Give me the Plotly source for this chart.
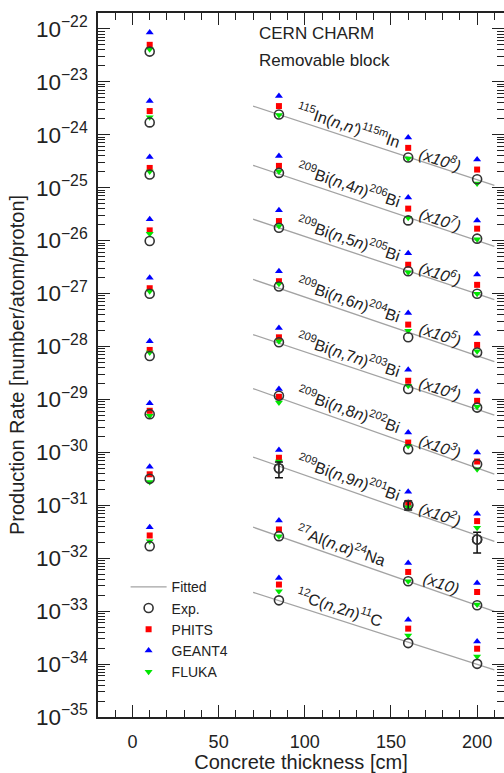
import numpy as np
import plotly.graph_objects as go

# ---------------- data (values as plotted, i.e. already multiplied by the scale factor) -------------
thickness = [10, 85, 160, 200]

reaction_labels = [
    "<sup>115</sup>In(<i>n</i>,<i>n'</i>)<sup>115m</sup>In",
    "<sup>209</sup>Bi(<i>n</i>,4<i>n</i>)<sup>206</sup>Bi",
    "<sup>209</sup>Bi(<i>n</i>,5<i>n</i>)<sup>205</sup>Bi",
    "<sup>209</sup>Bi(<i>n</i>,6<i>n</i>)<sup>204</sup>Bi",
    "<sup>209</sup>Bi(<i>n</i>,7<i>n</i>)<sup>203</sup>Bi",
    "<sup>209</sup>Bi(<i>n</i>,8<i>n</i>)<sup>202</sup>Bi",
    "<sup>209</sup>Bi(<i>n</i>,9<i>n</i>)<sup>201</sup>Bi",
    "<sup>27</sup>Al(<i>n</i>,<i>α</i>)<sup>24</sup>Na",
    "<sup>12</sup>C(<i>n</i>,2<i>n</i>)<sup>11</sup>C",
]
scale_labels = [
    "<i>(x10<sup>8</sup>)</i>", "<i>(x10<sup>7</sup>)</i>", "<i>(x10<sup>6</sup>)</i>",
    "<i>(x10<sup>5</sup>)</i>", "<i>(x10<sup>4</sup>)</i>", "<i>(x10<sup>3</sup>)</i>",
    "<i>(x10<sup>2</sup>)</i>", "<i>(x10)</i>", "",
]

# rows: reactions (same order as labels); columns: thickness 10, 85, 160, 200 cm
exp_rate = [
    [3.72e-23, 2.42e-24, 3.71e-25, 1.44e-25],
    [1.71e-24, 1.90e-25, 2.41e-26, 1.09e-26],
    [1.77e-25, 1.75e-26, 2.64e-27, 9.9e-28],
    [9.8e-27, 1.36e-27, 1.49e-28, 7.7e-29],
    [9.9e-28, 1.20e-28, 1.57e-29, 7.0e-30],
    [6.6e-29, 1.17e-29, 1.15e-30, 5.95e-31],
    [5.27e-30, 5.0e-31, 1.01e-31, 2.26e-32],
    [3.18e-31, 2.61e-32, 3.67e-33, 1.29e-33],
    [1.69e-32, 1.60e-33, 2.49e-34, 1.01e-34],
]
# experimental uncertainties that are visible (Bi(n,9n) row)
exp_err_row = 6
exp_err_plus = [0.0, 1.6e-31, 0.2e-31, 0.84e-32]
exp_err_minus = [0.0, 1.7e-31, 0.2e-31, 1.0e-32]

phits_rate = [
    [5.0e-23, 3.48e-24, 5.65e-25, 2.20e-25],
    [2.80e-24, 2.58e-25, 4.02e-26, 1.68e-26],
    [2.36e-25, 2.34e-26, 3.50e-27, 1.46e-27],
    [1.56e-26, 1.71e-27, 2.59e-28, 1.07e-28],
    [1.26e-27, 1.49e-28, 2.25e-29, 9.4e-30],
    [8.6e-29, 1.12e-29, 1.53e-30, 6.7e-31],
    [6.1e-30, 7.9e-31, 1.11e-31, 5.02e-32],
    [3.85e-31, 3.49e-32, 5.5e-33, 2.30e-33],
    [2.69e-32, 3.18e-33, 4.67e-34, 1.95e-34],
]
geant4_rate = [
    [8.5e-23, 5.38e-24, 8.9e-25, 3.40e-25],
    [4.33e-24, 3.98e-25, 6.5e-26, 2.41e-26],
    [3.81e-25, 3.73e-26, 5.8e-27, 2.29e-27],
    [2.52e-26, 2.64e-27, 4.31e-28, 1.73e-28],
    [1.98e-27, 2.24e-28, 3.64e-29, 1.39e-29],
    [1.25e-28, 1.57e-29, 2.36e-30, 9.9e-31],
    [8.5e-30, 1.11e-30, 1.80e-31, 6.9e-32],
    [5.36e-31, 5.18e-32, 8.1e-33, 3.40e-33],
    [3.86e-32, 4.24e-33, 6.9e-34, 2.68e-34],
]
fluka_rate = [
    [4.13e-23, 2.35e-24, 3.56e-25, 1.20e-25],
    [2.13e-24, 2.02e-25, 2.71e-26, 1.06e-26],
    [2.02e-25, 1.88e-26, 2.53e-27, 9.9e-28],
    [1.35e-26, 1.53e-27, 1.99e-28, 8.1e-29],
    [1.11e-27, 1.25e-28, 1.81e-29, 7.3e-30],
    [7.7e-29, 8.7e-30, 1.32e-30, 4.79e-31],
    [4.89e-30, 6.7e-31, 9.2e-32, 3.75e-32],
    [2.75e-31, 2.61e-32, 3.67e-33, 1.33e-33],
    [2.10e-32, 2.37e-33, 3.48e-34, 1.39e-34],
]

# ---------------- layout geometry ----------------
W, H = 504, 773
ML, MR, MT, MB = 97.5, 0, 13, 56
XR = [-20, 215.6]
YR = [-35, -21.7]
px_per_cm = (W - ML - MR) / (XR[1] - XR[0])
px_per_dec = (H - MT - MB) / (YR[1] - YR[0])

FONT = "Liberation Sans, Arial, Helvetica, sans-serif"
TXT = "#222222"
GREY = "#a3a3a3"

fig = go.Figure()

xs_all = thickness * len(exp_rate)

def flat(rows):
    return [v for r in rows for v in r]

# fitted lines (exponential fit to the experimental points at 85, 160, 200 cm)
fit_x = np.array([70.0, 210.0])
fits = []
for i, row in enumerate(exp_rate):
    b, a = np.polyfit(thickness[1:], np.log10(row[1:]), 1)
    fits.append((a, b))
    fig.add_trace(go.Scatter(
        x=fit_x, y=10 ** (a + b * fit_x), mode="lines",
        line=dict(color=GREY, width=1.3),
        name="Fitted", legendgroup="fit", showlegend=(i == 0), legendrank=1,
        hoverinfo="skip"))

fig.add_trace(go.Scatter(
    x=xs_all, y=flat(phits_rate), mode="markers", name="PHITS", legendrank=3,
    marker=dict(symbol="square", size=6, color="#ff0000")))
fig.add_trace(go.Scatter(
    x=xs_all, y=flat(geant4_rate), mode="markers", name="GEANT4", legendrank=4,
    marker=dict(symbol="triangle-up", size=7, color="#0000ff")))
fig.add_trace(go.Scatter(
    x=xs_all, y=flat(fluka_rate), mode="markers", name="FLUKA", legendrank=5,
    marker=dict(symbol="triangle-down", size=7, color="#00e600")))
fig.add_trace(go.Scatter(
    x=xs_all, y=flat(exp_rate), mode="markers", name="Exp.", legendrank=2,
    marker=dict(symbol="circle-open", size=9, color="#333333", line=dict(width=1.6))))
fig.add_trace(go.Scatter(
    x=thickness[1:], y=exp_rate[exp_err_row][1:], mode="markers", showlegend=False,
    marker=dict(symbol="circle-open", size=9, color="#333333", line=dict(width=1.6)),
    error_y=dict(type="data", array=exp_err_plus[1:], arrayminus=exp_err_minus[1:],
                 color="#111111", thickness=1.5, width=4)))

# labels along the fitted lines
annotations = []
for i, (a, b) in enumerate(fits):
    ang = float(np.degrees(np.arctan(-b * px_per_dec / px_per_cm)))
    x0 = 92.5
    y0 = a + b * x0 + 23 / px_per_dec
    annotations.append(dict(
        x=x0, y=y0, xref="x", yref="y", text=reaction_labels[i], showarrow=False,
        xanchor="left", yanchor="top", textangle=ang,
        font=dict(family=FONT, size=16, color=TXT)))
    if scale_labels[i]:
        x1 = 179
        y1 = a + b * x1 + 9 / px_per_dec
        annotations.append(dict(
            x=x1, y=y1, xref="x", yref="y", text=scale_labels[i], showarrow=False,
            xanchor="center", yanchor="middle", textangle=ang,
            font=dict(family=FONT, size=16, color=TXT)))

annotations.append(dict(x=72.5, y=-22.09, xref="x", yref="y", text="CERN CHARM",
                        showarrow=False, xanchor="left", yanchor="middle",
                        font=dict(family=FONT, size=17, color=TXT)))
annotations.append(dict(x=72.5, y=-22.6, xref="x", yref="y", text="Removable block",
                        showarrow=False, xanchor="left", yanchor="middle",
                        font=dict(family=FONT, size=17, color=TXT)))

axis_common = dict(
    showline=True, linecolor="#222222", linewidth=1.5, mirror="ticks",
    ticks="inside", tickcolor="#222222", tickwidth=1.2, ticklen=12,
    showgrid=False, zeroline=False,
    tickfont=dict(family=FONT, size=18, color=TXT),
)

fig.update_layout(
    width=W, height=H,
    margin=dict(l=ML, r=MR, t=MT, b=MB, autoexpand=False),
    paper_bgcolor="white", plot_bgcolor="white",
    font=dict(family=FONT, color=TXT),
    showlegend=True,
    legend=dict(x=0.068, y=0.207, xanchor="left", yanchor="top",
                bgcolor="rgba(0,0,0,0)", font=dict(family=FONT, size=14, color=TXT),
                traceorder="normal", tracegroupgap=0, itemwidth=36),
    annotations=annotations,
    xaxis=dict(axis_common, range=XR, tick0=0, dtick=50,
               minor=dict(dtick=10, ticklen=7, ticks="inside", tickcolor="#222222", tickwidth=1.2),
               ticklabelstandoff=8,
               title=dict(text="Concrete thickness [cm]", standoff=8,
                          font=dict(family=FONT, size=20, color=TXT))),
    yaxis=dict(axis_common, type="log", range=YR, dtick=1, exponentformat="power",
               minor=dict(dtick="D1", ticklen=7, ticks="inside", tickcolor="#222222", tickwidth=1.2),
               ticklabelstandoff=5,
               title=dict(text="Production Rate [number/atom/proton]", standoff=6,
                          font=dict(family=FONT, size=20, color=TXT))),
)

fig.write_html("out.html")
